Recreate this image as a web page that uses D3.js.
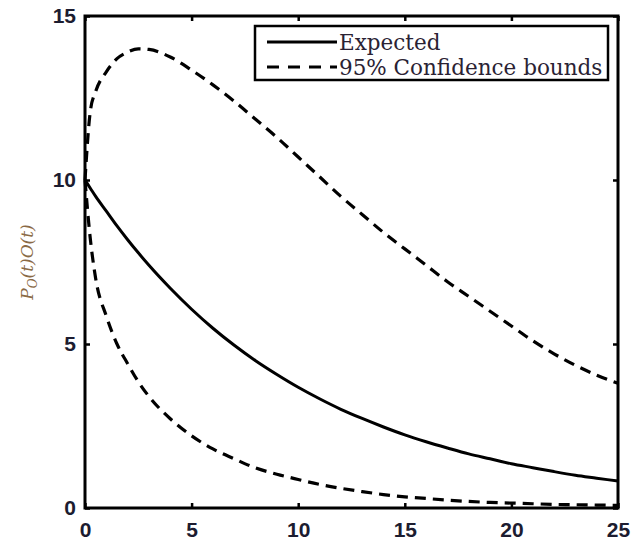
<!DOCTYPE html>
<html>
<head>
<meta charset="utf-8">
<script src="https://cdn.jsdelivr.net/npm/d3@7"></script>
<style>
  body { margin: 0; background: #fff; }
  svg { display: block; }
</style>
</head>
<body>
<div id="chart"></div>
<script>
// values, t = 0..25
var tValues = [0, 0.25, 0.5, 1, 1.5, 2, 2.5, 3, 4, 5, 6, 7, 8, 9, 10, 11, 12, 13, 14, 15, 16, 17, 18, 19, 20, 21, 22, 23, 24, 25];
var expected = [10, 9.75, 9.5, 9.05, 8.6, 8.18, 7.78, 7.4, 6.7, 6.06, 5.48, 4.96, 4.49, 4.07, 3.68, 3.33, 3.01, 2.73, 2.47, 2.23, 2.02, 1.83, 1.65, 1.5, 1.35, 1.23, 1.11, 1.0, 0.91, 0.82];
var upper = [10, 12.1, 12.7, 13.3, 13.7, 13.9, 14.0, 13.98, 13.75, 13.35, 12.9, 12.4, 11.85, 11.3, 10.7, 10.1, 9.5, 8.95, 8.4, 7.9, 7.4, 6.9, 6.45, 6.0, 5.55, 5.1, 4.7, 4.35, 4.05, 3.8];
var lower = [10, 8.2, 7.0, 5.85, 5.0, 4.4, 3.85, 3.4, 2.72, 2.2, 1.8, 1.5, 1.22, 1.03, 0.87, 0.72, 0.6, 0.5, 0.41, 0.34, 0.29, 0.24, 0.2, 0.17, 0.15, 0.13, 0.11, 0.1, 0.09, 0.08];
var xTicks = [0, 5, 10, 15, 20, 25];
var yTicks = [0, 5, 10, 15];
var legendLabels = ["Expected", "95% Confidence bounds"];

var width = 634, height = 548;
var margin = { top: 16, right: 16, bottom: 40, left: 85 };

var svg = d3.select("#chart").append("svg").attr("width", width).attr("height", height);

var x = d3.scaleLinear().domain([0, 25]).range([margin.left, width - margin.right]);
var y = d3.scaleLinear().domain([0, 15]).range([height - margin.bottom, margin.top]);

var tickFont = "'Liberation Sans', Arial, sans-serif";
var tickColor = "#1c1c30";

// x axis (bottom) and the mirrored top ticks
var xAxis = svg.append("g").attr("transform", "translate(0," + y(0) + ")")
    .call(d3.axisBottom(x).tickValues(xTicks).tickSizeInner(-5).tickSizeOuter(0).tickPadding(14));
var xTop = svg.append("g").attr("transform", "translate(0," + y(15) + ")")
    .call(d3.axisTop(x).tickValues(xTicks).tickSizeInner(-5).tickSizeOuter(0).tickFormat(""));
var yAxis = svg.append("g").attr("transform", "translate(" + x(0) + ",0)")
    .call(d3.axisLeft(y).tickValues(yTicks).tickSizeInner(-5).tickSizeOuter(0).tickPadding(9));
var yRight = svg.append("g").attr("transform", "translate(" + x(25) + ",0)")
    .call(d3.axisRight(y).tickValues(yTicks).tickSizeInner(-5).tickSizeOuter(0).tickFormat(""));

[xAxis, xTop, yAxis, yRight].forEach(function (g) {
    g.select(".domain").remove();
    g.selectAll(".tick line").attr("stroke", "#000").attr("stroke-width", 2.5);
    g.selectAll("text").attr("fill", tickColor).style("font-family", tickFont)
        .style("font-size", "21px").style("font-weight", "bold");
});

// plot frame
svg.append("rect")
    .attr("x", x(0)).attr("y", y(15))
    .attr("width", x(25) - x(0)).attr("height", y(0) - y(15))
    .attr("fill", "none").attr("stroke", "#000").attr("stroke-width", 3);

var line = d3.line()
    .x(function (d) { return x(d[0]); })
    .y(function (d) { return y(d[1]); })
    .curve(d3.curveMonotoneX);

function pairs(vals) {
    return tValues.map(function (t, i) { return [t, vals[i]]; });
}

svg.append("path").datum(pairs(expected)).attr("d", line)
    .attr("fill", "none").attr("stroke", "#000").attr("stroke-width", 3);
[upper, lower].forEach(function (s) {
    svg.append("path").datum(pairs(s)).attr("d", line)
        .attr("fill", "none").attr("stroke", "#000").attr("stroke-width", 3.2)
        .attr("stroke-dasharray", "11,7");
});

// legend
var legend = svg.append("g").attr("transform", "translate(255,26)");
legend.append("rect").attr("width", 353).attr("height", 54)
    .attr("fill", "#fff").attr("stroke", "#000").attr("stroke-width", 2.5);
legendLabels.forEach(function (lab, i) {
    var ly = 16 + i * 25;
    legend.append("line").attr("x1", 12).attr("x2", 82).attr("y1", ly).attr("y2", ly)
        .attr("stroke", "#000").attr("stroke-width", 3)
        .attr("stroke-dasharray", i === 1 ? "12,9" : null);
    legend.append("text").attr("x", 84).attr("y", ly).attr("dy", "0.35em")
        .attr("fill", "#2a2233")
        .style("font-family", "'DejaVu Serif', serif").style("font-size", "21.5px")
        .text(lab);
});

// y label P_O(t)O(t)
var yl = svg.append("text")
    .attr("transform", "translate(33,262) rotate(-90)")
    .attr("text-anchor", "middle")
    .attr("fill", "#8a6a45")
    .style("font-family", "'DejaVu Serif', serif").style("font-style", "italic").style("font-size", "17px");
yl.append("tspan").text("P");
yl.append("tspan").attr("dy", 4).style("font-size", "12px").text("O");
yl.append("tspan").attr("dy", -4).text("(t)O(t)");
</script>
</body>
</html>
